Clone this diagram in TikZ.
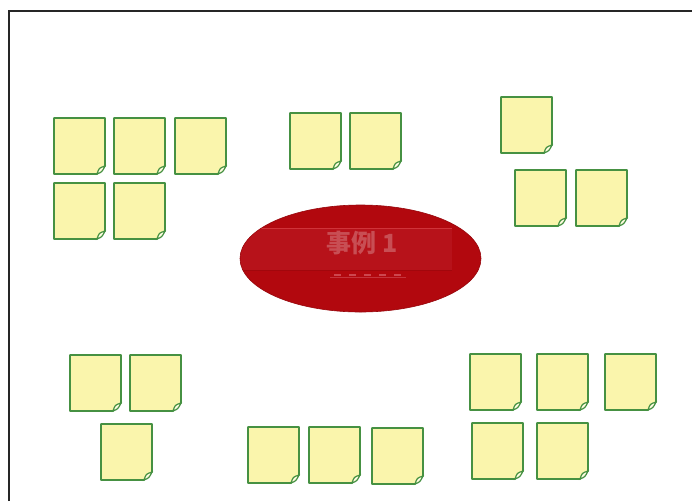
\documentclass[tikz,border=0pt]{standalone}
\usepackage{fontspec}
\newfontfamily\cjk{Noto Sans CJK SC}
\usetikzlibrary{shapes.geometric}
\definecolor{notefill}{RGB}{250,245,172}
\definecolor{noteline}{RGB}{70,145,66}
\definecolor{ovalred}{RGB}{178,8,14}
\definecolor{bandred}{RGB}{183,18,26}
\definecolor{textred}{RGB}{200,78,84}
\definecolor{dashred}{RGB}{205,70,78}
\tikzset{
  notebox/.style={draw=none, minimum width=51pt, minimum height=56pt, inner sep=0pt, outer sep=0pt},
  noteshape/.style={fill=notefill, draw=noteline, line width=1.7pt, line join=round},
  notefold/.style={fill=white!60!notefill, draw=noteline, line width=1.2pt},
  oval/.style={ellipse, fill=ovalred, draw=ovalred!85!black, line width=0.6pt, minimum width=241pt, minimum height=107pt, inner sep=0pt},
  frameline/.style={draw=black!85, line width=1.2pt}
}
\newcommand\stickynote[3]{%
  \node[notebox, anchor=north west] (#1) at (#2,#3) {};
  \path[noteshape] (#1.north west) -- (#1.north east) -- ([yshift=8pt]#1.south east)
     -- ([xshift=-8pt]#1.south east) -- (#1.south west) -- cycle;
  \path[notefold] ([xshift=-8pt]#1.south east) .. controls ([xshift=-6pt,yshift=6pt]#1.south east) .. ([yshift=8pt]#1.south east)
     .. controls ([xshift=-3pt,yshift=2pt]#1.south east) .. cycle;
}
\begin{document}
\begin{tikzpicture}[x=1pt,y=-1pt]
\useasboundingbox (0,0) rectangle (692,501);
\fill[white] (0,0) rectangle (692,501);
\coordinate (ftl) at (9,11);
\coordinate (ftr) at (692,11);
\coordinate (fbl) at (9,501);
\draw[frameline] (fbl) -- (ftl) -- (ftr);

% group top-left
\stickynote{a1}{54}{118}
\stickynote{a2}{114}{118}
\stickynote{a3}{175}{118}
\stickynote{a4}{54}{183}
\stickynote{a5}{114}{183}
% group top-middle
\stickynote{b1}{290}{113}
\stickynote{b2}{350}{113}
% group top-right
\stickynote{c1}{501}{97}
\stickynote{c2}{515}{170}
\stickynote{c3}{576}{170}
% group bottom-left
\stickynote{d1}{70}{355}
\stickynote{d2}{130}{355}
\stickynote{d3}{101}{424}
% group bottom-middle
\stickynote{e1}{248}{427}
\stickynote{e2}{309}{427}
\stickynote{e3}{372}{428}
% group bottom-right
\stickynote{f1}{470}{354}
\stickynote{f2}{537}{354}
\stickynote{f3}{605}{354}
\stickynote{f4}{472}{423}
\stickynote{f5}{537}{423}

% central oval
\node[oval] (case) at (360.5,258.5) {};
\begin{scope}
  \clip (case.center) ellipse [x radius=120pt, y radius=53pt];
  \fill[bandred] (240,228) rectangle (452,270);
  \draw[red!55!white, opacity=0.35, line width=0.8pt] (240,228) -- (452,228);
  \draw[ovalred!70!black, opacity=0.3, line width=0.6pt] (240,270) -- (452,270);
\end{scope}
\node[text=textred, font=\cjk\bfseries\fontsize{25}{28}\selectfont, inner sep=0pt] (title) at (362,243) {事例 1};
\coordinate (bar1) at (330,275);
\coordinate (bar2) at (406,275);
\draw[line width=2.5pt, draw=dashred, dash pattern=on 7pt off 8pt, dash phase=-4pt] (bar1) -- (bar2);
\draw[line width=0.7pt, draw=dashred!70!ovalred] ([yshift=-2pt]bar1) -- ([yshift=-2pt]bar2);
\end{tikzpicture}
\end{document}
